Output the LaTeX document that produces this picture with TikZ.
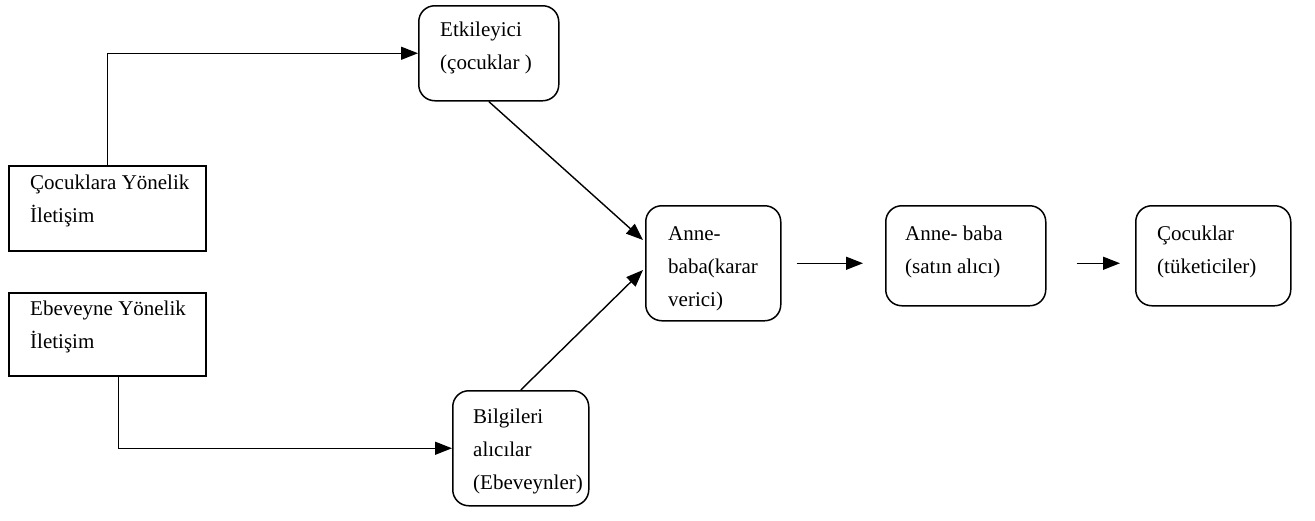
\documentclass[tikz,border=0pt]{standalone}
\usepackage{fontspec}
\setmainfont{Liberation Serif}
\usetikzlibrary{arrows.meta,calc}
\begin{document}
\begin{tikzpicture}[x=1pt,y=-1pt,
  box/.style={draw, line width=1.5pt, inner sep=0pt, anchor=north west},
  rbox/.style={box, rounded corners=16pt},
  lbl/.style={anchor=north west, inner sep=0pt, align=left, font=\fontsize{21}{33}\selectfont},
  arr/.style={line width=1.4pt, -{Triangle[length=17pt,width=13pt]}}]
\useasboundingbox[fill=white] (0,0) rectangle (1315,520);
% boxes
\node[box, minimum width=197pt, minimum height=85pt] (cocuk) at (8,165) {};
\node[box, minimum width=197pt, minimum height=83pt] (ebev) at (8,292) {};
\node[rbox, minimum width=140pt, minimum height=95pt] (etk) at (418,5) {};
\node[rbox, minimum width=136pt, minimum height=115pt] (bilgi) at (452,390) {};
\node[rbox, minimum width=135pt, minimum height=115pt] (anne) at (645,205) {};
\node[rbox, minimum width=160pt, minimum height=100pt] (satin) at (885,205) {};
\node[rbox, minimum width=155pt, minimum height=100pt] (cocuklar) at (1135,205) {};
% labels
\node[lbl] (cocukT) at (30,175) {Çocuklara Yönelik\\İletişim};
\node[lbl] (ebevT) at (30,301) {Ebeveyne Yönelik\\İletişim};
\node[lbl] (etkT) at (440,22) {Etkileyici\\(çocuklar )};
\node[lbl] (bilgiT) at (473,409) {Bilgileri\\alıcılar\\(Ebeveynler)};
\node[lbl] (anneT) at (668,226) {Anne-\\baba(karar\\verici)};
\node[lbl] (satinT) at (905,226) {Anne- baba\\(satın alıcı)};
\node[lbl] (cocuklarT) at (1157,226) {Çocuklar\\(tüketiciler)};
% connectors
\draw[arr] (cocuk.north) |- (etk.west);
\draw[arr] ($(ebev.south)+(11,0)$) |- (bilgi.west);
\draw[arr] (etk.south) -- ($(anne.north west)+(-2,35)$);
\draw[arr] (bilgi.north) -- ($(anne.north west)+(-2,65)$);
\draw[arr, shorten <=15pt, shorten >=22pt] (anne.east) -- (anne.east -| satin.west);
\draw[arr, shorten <=30pt, shorten >=15pt] (satin.east |- anne.east) -- (anne.east -| cocuklar.west);
\end{tikzpicture}
\end{document}
